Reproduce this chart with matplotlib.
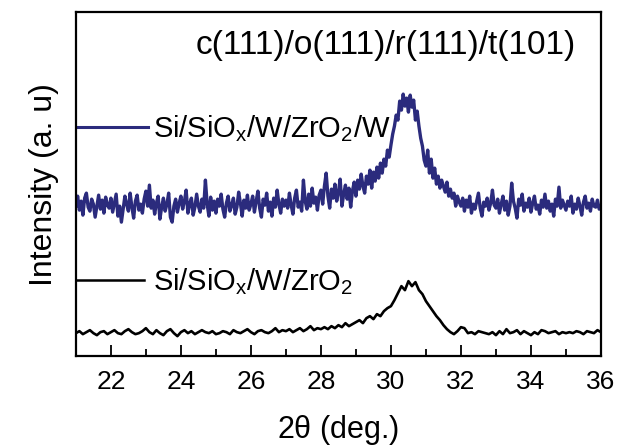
import numpy as np
import matplotlib
matplotlib.use("Agg")
import matplotlib.pyplot as plt
from matplotlib.ticker import MultipleLocator

plt.rcParams['font.family'] = ['Liberation Sans', 'DejaVu Sans']
plt.rcParams['mathtext.fontset'] = 'custom'
plt.rcParams['mathtext.rm'] = 'Liberation Sans'

# 2theta grids (deg)
two_theta_w = np.round(np.arange(21.0, 36.0001, 0.05), 2)
two_theta_zr = np.round(np.arange(21.0, 36.0001, 0.1), 1)

# Si/SiOx/W/ZrO2/W (blue), intensity in arbitrary units, one row per degree
ints_w = [
    150, 160, 146, 155, 141, 158, 163, 149, 145, 157, 152, 139, 150, 161, 147, 156, 143, 159, 151, 148,
    158, 144, 153, 162, 140, 150, 134, 147, 160, 152, 145, 163, 149, 138, 155, 161, 146, 152, 143, 157,
    165, 150, 171, 148, 156, 142, 153, 160, 137, 149, 158, 145, 152, 163, 139, 134, 150, 157, 144, 153,
    160, 147, 155, 166, 143, 152, 158, 141, 149, 162, 150, 144, 157, 148, 176, 152, 140, 159, 146, 155,
    143, 157, 150, 162, 147, 139, 153, 160, 145, 151, 158, 142, 149, 164, 153, 140, 156, 148, 161, 146,
    152, 160, 144, 155, 165, 148, 139, 157, 151, 163, 145, 154, 140, 158, 149, 166, 152, 143, 157, 150,
    156, 148, 163, 151, 142, 158, 166, 149, 154, 145, 176, 155, 147, 162, 150, 168, 153, 159, 146, 161,
    166, 152, 170, 183, 160, 148, 167, 158, 172, 155, 164, 177, 150, 162, 171, 157, 168, 149, 165, 174,
    160, 176, 167, 182, 170, 163, 180, 172, 186, 168, 184, 175, 189, 178, 193, 183, 197, 190, 206, 199,
    211, 222, 230, 241, 236, 255, 246, 262, 250, 258, 244, 261, 249, 256, 236, 245, 230, 218, 210, 196,
    190, 206, 183, 197, 178, 188, 172, 180, 168, 176, 170, 164, 174, 160, 167, 158, 163, 150, 160, 154,
    150, 158, 145, 156, 149, 160, 143, 152, 147, 155, 163, 148, 140, 154, 150, 158, 146, 153, 166, 151,
    148, 157, 143, 152, 160, 146, 155, 141, 150, 173, 155, 148, 138, 157, 151, 162, 145, 153, 149, 158,
    144, 153, 160, 147, 151, 142, 156, 149, 162, 148, 155, 145, 152, 140, 157, 150, 169, 148, 156, 151,
    146, 155, 150, 160, 143, 152, 147, 158, 150, 141, 154, 160, 148, 153, 145, 157, 150, 149, 156, 147,
    150,
]

# Si/SiOx/W/ZrO2 (black)
ints_zr = [
    23, 25, 22, 24, 26, 23, 21, 24, 25, 22, 24,
    26, 23, 22, 25, 27, 24, 22, 23, 25, 28,
    24, 22, 26, 23, 21, 25, 27, 23, 20, 24,
    26, 23, 25, 22, 24, 26, 24, 23, 25, 22,
    23, 25, 24, 22, 26, 24, 23, 25, 27, 24,
    22, 25, 26, 24, 23, 25, 28, 24, 26, 25,
    27, 24, 26, 28, 25, 27, 30, 26, 28, 27,
    29, 27, 30, 28, 31, 29, 33, 30, 32, 34,
    36, 33, 38, 40, 37, 42, 40, 45, 48, 50,
    56, 63, 70, 66, 75, 70, 74, 66, 62, 55,
    50, 45, 40, 36, 31, 27, 24, 22, 25, 29,
    28, 23, 24, 22, 25, 24, 23, 22, 24, 21,
    25, 22, 27, 23, 24, 26, 22, 25, 23, 21,
    24, 22, 26, 25, 23, 24, 25, 22, 24, 23,
    24, 23, 25, 24, 22, 25, 24, 23, 26, 24,
]

label_w = r'Si/SiO$_\mathregular{x}$/W/ZrO$_\mathregular{2}$/W'
label_zr = r'Si/SiO$_\mathregular{x}$/W/ZrO$_\mathregular{2}$'
peak_label = 'c(111)/o(111)/r(111)/t(101)'

blue = '#2b2b7d'

fig = plt.figure(figsize=(6.17, 4.48), dpi=100)
ax = fig.add_axes([0.123, 0.205, 0.851, 0.768])

ax.plot(two_theta_w, ints_w, color=blue, lw=2.4)
ax.plot(two_theta_zr, ints_zr, color='black', lw=1.9)

# in-plot labels
ax.plot([21.0, 23.05], [229, 229], color=blue, lw=2.2)
ax.text(23.2, 219, label_w, fontsize=21, va='baseline', ha='left')
ax.plot([21.0, 22.95], [76, 76], color='black', lw=1.8)
ax.text(23.2, 66, label_zr, fontsize=21, va='baseline', ha='left')
ax.text(29.85, 311, peak_label, fontsize=24, ha='center', va='center')

ax.set_xlim(21, 36)
ax.set_ylim(0, 344)
ax.xaxis.set_major_locator(MultipleLocator(2))
ax.xaxis.set_minor_locator(MultipleLocator(1))
ax.tick_params(axis='x', which='major', direction='in', length=8, width=1.3,
               labelsize=19, pad=10)
ax.tick_params(axis='x', which='minor', direction='in', length=5, width=1.3)
ax.set_yticks([])
for s in ax.spines.values():
    s.set_linewidth(1.6)

ax.set_xlabel(r'2$\mathregular{\theta}$ (deg.)', fontsize=22, labelpad=14)
ax.set_ylabel('Intensity (a. u)', fontsize=23, labelpad=12)

fig.savefig('out.png', dpi=100)
